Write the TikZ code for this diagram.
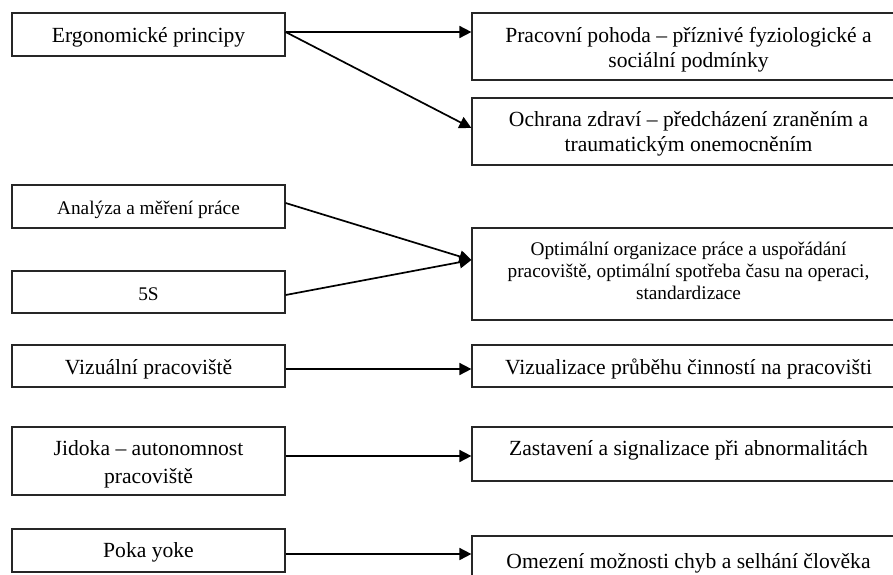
\documentclass[tikz,border=0pt]{standalone}
\usepackage{fontspec}
\setmainfont{Liberation Serif}
\usetikzlibrary{arrows.meta}
% stacked centred lines whose baseline is the first line
\newcommand{\cellstack}[1]{\begin{tabular}[t]{@{}c@{}}#1\end{tabular}}
\begin{document}
\begin{tikzpicture}[x=1pt, y=-1pt,
  box/.style={draw=black!85, line width=1.2pt, inner sep=0pt,
    font=\fontsize{21.6}{25}\selectfont},
  smallbox/.style={box, font=\fontsize{19.3}{21.7}\selectfont},
  leftbox/.style={minimum width=273pt},
  rightbox/.style={minimum width=433pt},
  above base/.style={text height=#1, text depth=0pt},
  below base/.style={text height=0pt, text depth=#1},
  arr/.style={line width=1.7pt, -{Triangle[length=12pt, width=12pt]}}
]
\useasboundingbox (0,0) rectangle (893,574);
\clip (0,0) rectangle (893,574);

% left column
\node[box, leftbox, minimum height=43pt, above base=15.6pt] (erg) at (148.5,34.5) {Ergonomické principy};
\node[smallbox, leftbox, minimum height=43pt, above base=15pt] (ana) at (148.5,206.5) {Analýza a měření práce};
\node[smallbox, leftbox, minimum height=42pt, above base=16pt] (fives) at (148.5,292) {5S};
\node[box, leftbox, minimum height=42pt, above base=16pt] (viz) at (148.5,366) {Vizuální pracoviště};
\node[box, leftbox, minimum height=68pt, below base=12pt,
  font=\fontsize{21.6}{28}\selectfont] (jid) at (148.5,461)
  {\cellstack{Jidoka – autonomnost\\pracoviště}};
\node[box, leftbox, minimum height=43pt, above base=13pt] (poka) at (148.5,550.5) {Poka yoke};

% right column
\node[box, rightbox, minimum height=67pt, below base=8.4pt] (prac) at (688.5,46.5)
  {\cellstack{Pracovní pohoda – příznivé fyziologické a\\sociální podmínky}};
\node[box, rightbox, minimum height=67pt, below base=9.6pt] (ochr) at (688.5,131.5)
  {\cellstack{Ochrana zdraví – předcházení zraněním a\\traumatickým onemocněním}};
\node[smallbox, rightbox, minimum height=92pt, below base=36.6pt] (opt) at (688.5,274)
  {\cellstack{Optimální organizace práce a uspořádání\\pracoviště, optimální spotřeba času na operaci,\\standardizace}};
\node[box, rightbox, minimum height=42pt, above base=16pt] (vizr) at (688.5,366)
  {Vizualizace průběhu činností na pracovišti};
\node[box, rightbox, minimum height=54pt, above base=3.4pt] (zas) at (688.5,454)
  {Zastavení a signalizace při abnormalitách};
\node[box, rightbox, minimum height=54pt, above base=10pt] (omez) at (688.5,563)
  {Omezení možnosti chyb a selhání člověka};

% connector end points
\coordinate (ergs) at ([yshift=2.5pt]erg.east);
\coordinate (ochrt) at ([yshift=3.5pt]ochr.west);
\coordinate (anas) at ([yshift=3.5pt]ana.east);
\coordinate (fivess) at ([yshift=-3pt]fives.east);
\coordinate (optt) at ([yshift=14pt]opt.west);
\coordinate (vizs) at ([yshift=-3pt]viz.east);
\coordinate (jids) at ([yshift=5pt]jid.east);
\coordinate (pokas) at ([yshift=-3.5pt]poka.east);

% connectors
\draw[arr] (ergs) -- (ergs -| prac.west);
\draw[arr] (ergs) -- (ochrt);
\draw[arr] (anas) -- (optt);
\draw[arr] (fivess) -- (optt);
\draw[arr] (vizs) -- (vizs -| vizr.west);
\draw[arr] (jids) -- (jids -| zas.west);
\draw[arr] (pokas) -- (pokas -| omez.west);
\end{tikzpicture}
\end{document}
